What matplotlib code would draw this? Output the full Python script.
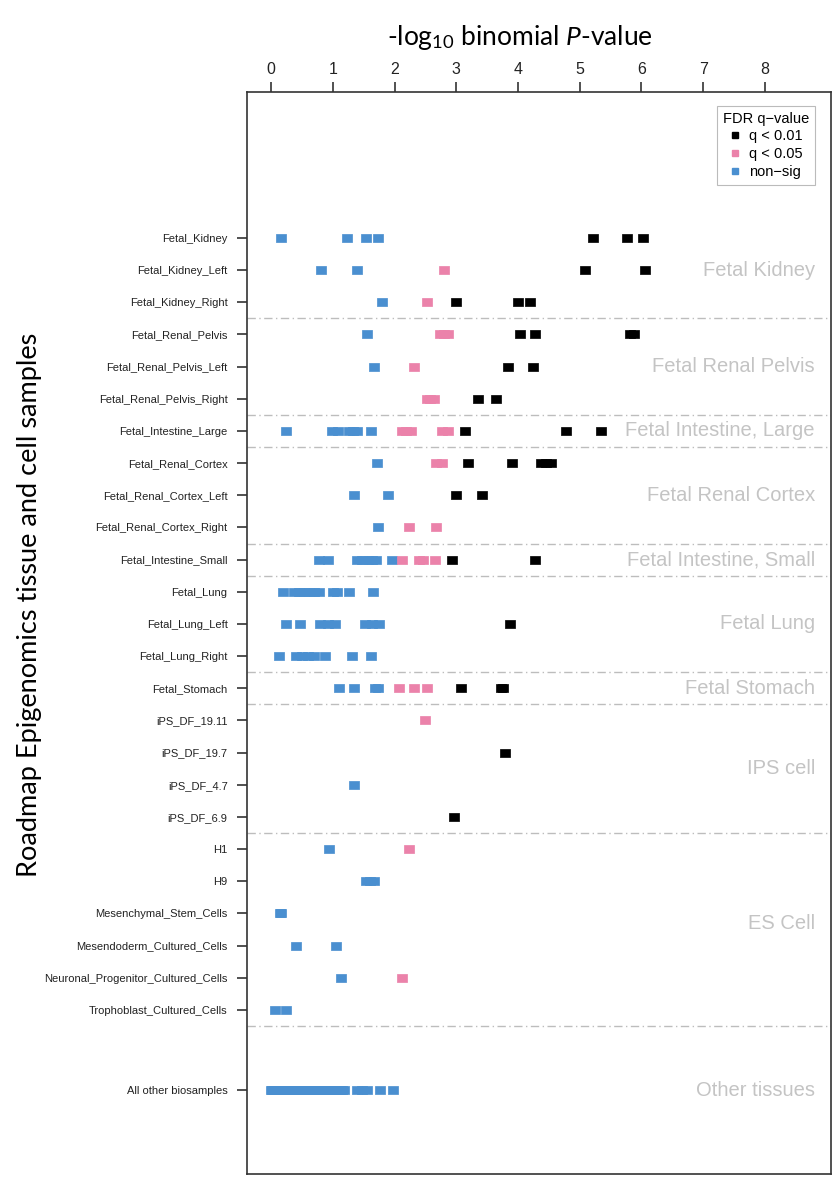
import numpy as np
import matplotlib
matplotlib.use('Agg')
import matplotlib.pyplot as plt
from matplotlib.lines import Line2D

plt.rcParams['font.family'] = ['Liberation Sans', 'DejaVu Sans']
plt.rcParams['mathtext.fontset'] = 'custom'
plt.rcParams['mathtext.rm'] = 'Lato'
plt.rcParams['mathtext.it'] = 'Lato:italic'

# samples, top to bottom
samples = ['Fetal_Kidney', 'Fetal_Kidney_Left', 'Fetal_Kidney_Right',
           'Fetal_Renal_Pelvis', 'Fetal_Renal_Pelvis_Left', 'Fetal_Renal_Pelvis_Right',
           'Fetal_Intestine_Large',
           'Fetal_Renal_Cortex', 'Fetal_Renal_Cortex_Left', 'Fetal_Renal_Cortex_Right',
           'Fetal_Intestine_Small',
           'Fetal_Lung', 'Fetal_Lung_Left', 'Fetal_Lung_Right',
           'Fetal_Stomach',
           'iPS_DF_19.11', 'iPS_DF_19.7', 'iPS_DF_4.7', 'iPS_DF_6.9',
           'H1', 'H9', 'Mesenchymal_Stem_Cells', 'Mesendoderm_Cultured_Cells',
           'Neuronal_Progenitor_Cultured_Cells', 'Trophoblast_Cultured_Cells',
           'All other biosamples']

# -log10 binomial P per sample, split by FDR q-value class
q01 = [[5.21, 5.76, 6.02], [5.08, 6.05], [3.00, 4.00, 4.19],
       [4.03, 4.27, 5.82, 5.88], [3.84, 4.25], [3.35, 3.64],
       [3.14, 4.77, 5.35],
       [3.19, 3.91, 4.38, 4.46, 4.54], [3.00, 3.41], [],
       [2.93, 4.27],
       [], [3.87], [],
       [3.07, 3.72, 3.75],
       [], [3.79], [], [2.97],
       [], [], [], [], [], [],
       []]
q05 = [[], [2.80], [2.53],
       [2.74, 2.80, 2.86], [2.32], [2.52, 2.58, 2.64],
       [2.12, 2.19, 2.26, 2.77, 2.86],
       [2.67, 2.77], [], [2.23, 2.67],
       [2.12, 2.40, 2.46, 2.65],
       [], [], [],
       [2.07, 2.32, 2.52],
       [2.49], [], [], [],
       [2.24], [], [], [], [2.12], [],
       []]
nonsig = [[0.16, 1.23, 1.54, 1.73], [0.81, 1.40], [1.80],
          [1.56], [1.67], [],
          [0.25, 0.99, 1.08, 1.27, 1.33, 1.40, 1.62],
          [1.71], [1.34, 1.89], [1.73],
          [0.77, 0.92, 1.40, 1.48, 1.57, 1.64, 1.70, 1.96],
          [0.20, 0.37, 0.45, 0.53, 0.61, 0.70, 0.78, 1.01, 1.07, 1.27, 1.65],
          [0.25, 0.47, 0.80, 0.92, 1.04, 1.53, 1.64, 1.75],
          [0.13, 0.40, 0.50, 0.60, 0.70, 0.87, 1.31, 1.62],
          [1.10, 1.34, 1.68, 1.73],
          [], [], [1.34], [],
          [0.94], [1.54, 1.60, 1.67], [0.14, 0.16], [0.40, 1.06], [1.14], [0.06, 0.24],
          [0.00, 0.02, 0.04, 0.06, 0.08, 0.10, 0.13, 0.16, 0.19, 0.22, 0.25, 0.28,
           0.31, 0.35, 0.39, 0.43, 0.47, 0.51, 0.55, 0.59, 0.63, 0.67, 0.71, 0.75,
           0.79, 0.83, 0.87, 0.91, 0.95, 0.99, 1.03, 1.07, 1.11, 1.15, 1.19,
           1.39, 1.47, 1.55, 1.76, 1.98]]

groups = ['Fetal Kidney', 'Fetal Renal Pelvis', 'Fetal Intestine, Large',
          'Fetal Renal Cortex', 'Fetal Intestine, Small', 'Fetal Lung',
          'Fetal Stomach', 'IPS cell', 'ES Cell', 'Other tissues']
group_sizes = [3, 3, 1, 3, 1, 3, 1, 4, 6, 1]

xticks = [0, 1, 2, 3, 4, 5, 6, 7, 8]

col_q01 = '#000000'
col_q05 = '#EB82AA'
col_ns = '#4A8FD0'

# row positions (gap before "All other biosamples")
ypos = list(range(len(samples) - 1)) + [len(samples) + 0.5]

fig = plt.figure(figsize=(8.38, 12), dpi=100)
ax = fig.add_axes([0.2947, 0.0217, 0.6969, 0.9017])

rect = [(-1.0, -0.8), (1.0, -0.8), (1.0, 0.8), (-1.0, 0.8), (-1.0, -0.8)]

for vals, col in [(nonsig, col_ns), (q05, col_q05), (q01, col_q01)]:
    for y, xs in zip(ypos, vals):
        if len(xs) == 0:
            continue
        ax.scatter(xs, [y] * len(xs), marker=rect, s=44, color=col,
                   edgecolors=col, linewidths=0.5, zorder=3)

# group separators and labels
start = 0
for g, n in zip(groups, group_sizes):
    rows = ypos[start:start + n]
    yc = np.mean(rows)
    if g == 'ES Cell':
        yc -= 0.2
    ax.text(8.81, yc, g, ha='right', va='center', fontsize=14.5, color='#C4C4C4')
    if g != 'Other tissues':
        ax.axhline(rows[-1] + 0.5, color='#BDBDBD', lw=1.0, ls=(0, (6, 2.5, 1, 2.5)), zorder=1)
    start += n

ax.set_xlim(-0.39, 9.07)
ax.set_ylim(29.1, -4.54)
ax.set_xticks(xticks)
ax.set_xticklabels([str(t) for t in xticks])
ax.xaxis.tick_top()
ax.tick_params(axis='x', length=7, width=1.1, pad=4, labelsize=11.5, colors='#222222')
ax.set_yticks(ypos)
ax.set_yticklabels(samples)
ax.tick_params(axis='y', length=7, width=1.1, pad=7, labelsize=8.0, colors='#222222')
for sp in ax.spines.values():
    sp.set_linewidth(1.2)
    sp.set_color('#333333')

handles = [Line2D([], [], ls='none', marker='s', ms=5, color=c)
           for c in [col_q01, col_q05, col_ns]]
leg = ax.legend(handles, ['q < 0.01', 'q < 0.05', 'non\u2212sig'], title='FDR q\u2212value',
                loc='upper right', bbox_to_anchor=(0.9726, 0.987), borderaxespad=0,
                fontsize=10.5, title_fontsize=10.5, fancybox=False, edgecolor='#BBBBBB',
                handlelength=0.8, handletextpad=0.6, labelspacing=0.25,
                borderpad=0.4, framealpha=1)
leg.get_frame().set_linewidth(0.8)

fig.text(520 / 838, 1 - 38 / 1200, '-log$_{10}$ binomial $P$-value', ha='center',
         va='center', fontsize=19, family='Lato')
fig.text(30 / 838, 0.496, 'Roadmap Epigenomics tissue and cell samples', rotation=90,
         ha='center', va='center', fontsize=19.5, family='Lato')

fig.savefig('out.png', dpi=100)
